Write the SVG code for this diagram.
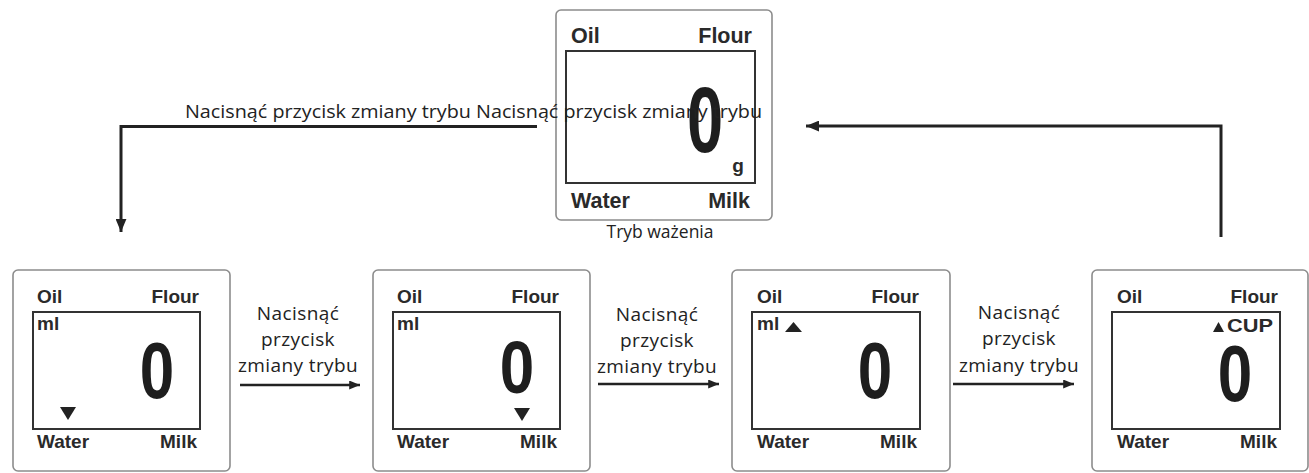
<svg xmlns="http://www.w3.org/2000/svg" width="1309" height="473" viewBox="0 0 1309 473">
<style>
.outer{fill:#fff;stroke:#8c8c8c;stroke-width:1.6}
.inner{fill:#fff;stroke:#333;stroke-width:2}
.lcd{font-family:"Liberation Sans",Arial,sans-serif;font-weight:bold;font-size:19px;fill:#2a2a2a}
.lcdT{font-family:"Liberation Sans",Arial,sans-serif;font-weight:bold;font-size:21.5px;fill:#2a2a2a}
.dig{font-family:"Liberation Sans",Arial,sans-serif;font-weight:bold;font-size:62px;fill:#1e1e1e;text-anchor:middle}
.lbl{font-family:"Open Sans","Noto Sans",sans-serif;font-size:19px;letter-spacing:0.4px;fill:#222;text-anchor:middle}
.top{font-family:"Open Sans","Noto Sans",sans-serif;font-size:19px;fill:#222}
.cap{font-family:"Open Sans","Noto Sans",sans-serif;font-size:17.5px;fill:#222;text-anchor:middle}
.end{text-anchor:end}
.tri{fill:#222}
.conn{fill:none;stroke:#222;stroke-width:3}
.conns{fill:none;stroke:#222;stroke-width:2.5}
</style>
<defs>
<marker id="ah" viewBox="0 0 12 10" markerUnits="userSpaceOnUse" markerWidth="13" markerHeight="11" refX="12" refY="5" orient="auto">
<path d="M0,0 L12,5 L0,10 z" fill="#222"/>
</marker>
<marker id="ahs" viewBox="0 0 12 10" markerUnits="userSpaceOnUse" markerWidth="11" markerHeight="9" refX="12" refY="5" orient="auto">
<path d="M0,0 L12,5 L0,10 z" fill="#222"/>
</marker>
</defs>

<g id="node-weighing">
<rect class="outer" x="556" y="10" width="216" height="210" rx="5"/>
<rect class="inner" x="566" y="51" width="189" height="132"/>
<text class="lcdT" x="571" y="43">Oil</text>
<text class="lcdT end" x="752" y="43">Flour</text>
<text class="lcdT" x="571" y="208">Water</text>
<text class="lcdT end" x="750" y="208">Milk</text>
<text class="dig" transform="translate(705,152) scale(1.05,1.5)" font-size="66">0</text>
<text class="lcd" x="738" y="172" text-anchor="middle" font-size="17">g</text>
<text class="cap" x="660" y="238">Tryb ważenia</text>
</g>

<g id="node-ml-water">
<rect class="outer" x="13" y="270" width="217" height="201" rx="5"/>
<rect class="inner" x="33" y="312" width="167" height="117"/>
<text class="lcd" x="37" y="303">Oil</text>
<text class="lcd end" x="199" y="303">Flour</text>
<text class="lcd" x="37" y="330">ml</text>
<text class="dig" transform="translate(157,398) scale(1,1.3)">0</text>
<polygon class="tri" points="60,407 76,407 68,420"/>
<text class="lcd" x="37" y="448">Water</text>
<text class="lcd end" x="197" y="448">Milk</text>
</g>

<g id="node-ml-milk">
<rect class="outer" x="373" y="270" width="217" height="201" rx="5"/>
<rect class="inner" x="393" y="312" width="167" height="117"/>
<text class="lcd" x="397" y="303">Oil</text>
<text class="lcd end" x="559" y="303">Flour</text>
<text class="lcd" x="397" y="330">ml</text>
<text class="dig" transform="translate(517,393) scale(1,1.2)">0</text>
<polygon class="tri" points="514,408 530,408 522,421"/>
<text class="lcd" x="397" y="448">Water</text>
<text class="lcd end" x="557" y="448">Milk</text>
</g>

<g id="node-ml-oil">
<rect class="outer" x="732" y="270" width="218" height="201" rx="5"/>
<rect class="inner" x="752" y="312" width="168" height="117"/>
<text class="lcd" x="757" y="303">Oil</text>
<text class="lcd end" x="919" y="303">Flour</text>
<text class="lcd" x="757" y="330">ml</text>
<polygon class="tri" points="785,332 802,332 793.5,322"/>
<text class="dig" transform="translate(875,398) scale(1,1.3)">0</text>
<text class="lcd" x="757" y="448">Water</text>
<text class="lcd end" x="917" y="448">Milk</text>
</g>

<g id="node-cup-flour">
<rect class="outer" x="1092" y="270" width="216" height="201" rx="5"/>
<rect class="inner" x="1112" y="312" width="168" height="117"/>
<text class="lcd" x="1117" y="303">Oil</text>
<text class="lcd end" x="1278" y="303">Flour</text>
<polygon class="tri" points="1213,332 1224,332 1218.5,322"/>
<text class="lcd" x="1227" y="332" font-size="17" textLength="46" lengthAdjust="spacingAndGlyphs">CUP</text>
<text class="dig" transform="translate(1235,401) scale(1,1.28)">0</text>
<text class="lcd" x="1117" y="448">Water</text>
<text class="lcd end" x="1277" y="448">Milk</text>
</g>

<g id="connectors">
<path class="conn" d="M537,126.5 H121 V232" marker-end="url(#ah)"/>
<path class="conn" d="M1221,237 V126 H806" marker-end="url(#ah)"/>
<text class="top" x="185" y="118" textLength="577" lengthAdjust="spacingAndGlyphs">Nacisnąć przycisk zmiany trybu Nacisnąć przycisk zmiany trybu</text>
<path class="conns" d="M240,385 H360" marker-end="url(#ahs)"/>
<path class="conns" d="M598,384 H719" marker-end="url(#ahs)"/>
<path class="conns" d="M953,384 H1074" marker-end="url(#ahs)"/>
<text class="lbl" x="298" y="320">Nacisnąć</text>
<text class="lbl" x="298" y="346">przycisk</text>
<text class="lbl" x="298" y="372">zmiany trybu</text>
<text class="lbl" x="657" y="321">Nacisnąć</text>
<text class="lbl" x="657" y="347">przycisk</text>
<text class="lbl" x="657" y="373">zmiany trybu</text>
<text class="lbl" x="1019" y="319">Nacisnąć</text>
<text class="lbl" x="1019" y="345">przycisk</text>
<text class="lbl" x="1019" y="372">zmiany trybu</text>
</g>
</svg>
